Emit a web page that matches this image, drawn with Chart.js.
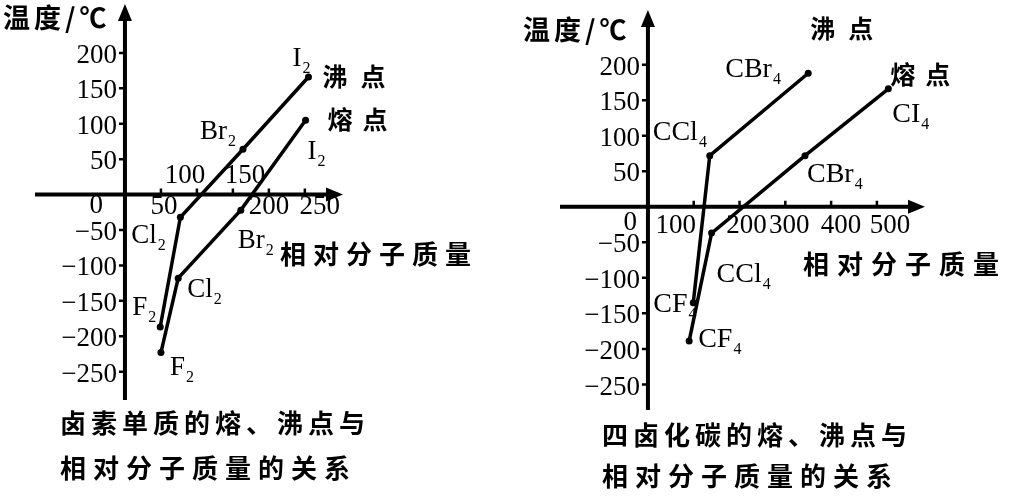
<!DOCTYPE html>
<html lang="zh">
<head>
<meta charset="utf-8">
<title>卤素单质与四卤化碳的熔、沸点</title>
<script src="https://cdn.jsdelivr.net/npm/chart.js@4.4.1/dist/chart.umd.min.js"></script>
<style>
body { margin: 0; background: #fff; }
#wrap { position: relative; width: 1009px; height: 499px; }
canvas { position: absolute; top: 0; }
#halogenChart { left: 0; }
#carbonChart { left: 500px; }
</style>
</head>
<body>
<div id="wrap">
<canvas id="halogenChart" width="500" height="499"></canvas>
<canvas id="carbonChart" width="509" height="499"></canvas>
</div>
<script>
// 卤素单质 (F2 Cl2 Br2 I2)
const halogenNames = ['F2', 'Cl2', 'Br2', 'I2']
const halogenBoilMass = [49, 77, 164, 255]
const halogenBoilPoint = [-187, -32, 64, 166]
const halogenMeltMass = [50, 74, 161, 251]
const halogenMeltPoint = [-223, -118, -22, 105]
const halogenXTicks = [50, 100, 150, 200, 250]

// 四卤化碳 (CI4 has no boiling point on the chart)
const carbonNames = ['CF4', 'CCl4', 'CBr4', 'CI4']
const carbonBoilMass = [99, 135, 350]
const carbonBoilPoint = [-135, 72, 188]
const carbonMeltMass = [90, 139, 343, 525]
const carbonMeltPoint = [-189, -37, 72, 166]
const carbonXTicks = [100, 200, 300, 400, 500]

const tempTicks = [-250, -200, -150, -100, -50, 50, 100, 150, 200]

const SERIF = '"Liberation Serif", "Times New Roman", serif'
const CJK = '"Noto Sans CJK SC", sans-serif'

function pts(xs, ys) {
  return xs.map((x, i) => ({ x: x, y: ys[i] }))
}

function minus(v) {
  return String(v).replace('-', '\u2212')
}

// chinese text, char by char with a gap
function drawCJK(ctx, text, x, y, size, gap) {
  ctx.font = 'bold ' + size + 'px ' + CJK
  ctx.textAlign = 'left'
  ctx.textBaseline = 'middle'
  for (const ch of text) {
    ctx.fillText(ch, x, y)
    x += ctx.measureText(ch).width + gap
  }
}

// F2 -> F with subscript 2
function drawFormula(ctx, name, x, y, size) {
  const m = name.match(/^(.*?)(\d+)$/)
  const base = m ? m[1] : name
  ctx.textAlign = 'left'
  ctx.textBaseline = 'alphabetic'
  ctx.font = size + 'px ' + SERIF
  ctx.fillText(base, x, y)
  if (m) {
    const w = ctx.measureText(base).width
    ctx.font = Math.round(size * 0.58) + 'px ' + SERIF
    ctx.fillText(m[2], x + w + 1, y + 7)
  }
}

function sketchPlugin(s) {
  return {
    id: 'sketch',
    afterDraw(chart) {
      const ctx = chart.ctx
      const a = chart.chartArea
      const xs = chart.scales.x, ys = chart.scales.y
      const ox = xs.getPixelForValue(0), oy = ys.getPixelForValue(0)
      ctx.save()
      ctx.fillStyle = '#000'
      ctx.strokeStyle = '#000'

      // axes through the origin
      ctx.lineWidth = 4
      ctx.beginPath()
      ctx.moveTo(a.left, oy); ctx.lineTo(a.right - 10, oy)
      ctx.moveTo(ox, a.bottom); ctx.lineTo(ox, a.top + 10)
      ctx.stroke()
      ctx.beginPath()
      ctx.moveTo(a.right, oy); ctx.lineTo(a.right - 17, oy - 7); ctx.lineTo(a.right - 17, oy + 7); ctx.closePath()
      ctx.moveTo(ox, a.top); ctx.lineTo(ox - 7, a.top + 17); ctx.lineTo(ox + 7, a.top + 17); ctx.closePath()
      ctx.fill()

      // tick marks
      ctx.lineWidth = 2.5
      ctx.beginPath()
      tempTicks.forEach(v => {
        const y = ys.getPixelForValue(v)
        ctx.moveTo(ox - 6, y); ctx.lineTo(ox, y)
      })
      s.xTicks.forEach(v => {
        const x = xs.getPixelForValue(v)
        ctx.moveTo(x, oy - 6); ctx.lineTo(x, oy)
      })
      ctx.stroke()

      // tick labels
      ctx.font = '27px ' + SERIF
      ctx.textAlign = 'right'
      ctx.textBaseline = 'middle'
      tempTicks.forEach(v => {
        ctx.fillText(minus(v), ox - 8, ys.getPixelForValue(v) + 3)
      })
      ctx.textBaseline = 'alphabetic'
      ctx.fillText('0', ox + s.zero[0], oy + s.zero[1])
      ctx.textAlign = 'center'
      s.xTicks.forEach((v, i) => {
        const n = s.xNudge[i]
        ctx.fillText(String(v), xs.getPixelForValue(v) + n[0], oy + n[1])
      })

      // point labels
      chart.data.datasets.forEach(ds => {
        ds.data.forEach((p, i) => {
          const off = ds.labelOffsets[i]
          drawFormula(ctx, ds.names[i], xs.getPixelForValue(p.x) + off[0], ys.getPixelForValue(p.y) + off[1], s.formulaSize)
        })
        const last = ds.data[ds.data.length - 1]
        drawCJK(ctx, ds.label, xs.getPixelForValue(last.x) + ds.nameOffset[0], ys.getPixelForValue(last.y) + ds.nameOffset[1], 25, ds.nameGap)
      })

      // titles and caption
      drawCJK(ctx, '温度/℃', s.yTitle[0], s.yTitle[1], 27, 4)
      drawCJK(ctx, '相对分子质量', s.xTitle[0], s.xTitle[1], 26, s.xTitle[2])
      drawCJK(ctx, s.caption[0], s.capPos[0], s.capPos[1], 26, 5)
      drawCJK(ctx, s.caption[1], s.capPos[0], s.capPos[2], 26, 7)
      ctx.restore()
    }
  }
}

function lineSet(label, xs, ys, names, labelOffsets, nameOffset, nameGap) {
  return {
    label: label,
    data: pts(xs, ys),
    names: names,
    labelOffsets: labelOffsets,
    nameOffset: nameOffset,
    nameGap: nameGap,
    showLine: true,
    borderColor: '#000',
    borderWidth: 3.5,
    pointRadius: 3.5,
    pointBackgroundColor: '#000',
    pointBorderWidth: 0,
    clip: false
  }
}

function makeChart(id, datasets, s) {
  return new Chart(document.getElementById(id), {
    type: 'scatter',
    data: { datasets: datasets },
    options: {
      responsive: false,
      animation: false,
      layout: { padding: s.padding },
      plugins: { legend: { display: false }, tooltip: { enabled: false } },
      scales: {
        x: { type: 'linear', display: false, min: s.xRange[0], max: s.xRange[1] },
        y: { type: 'linear', display: false, min: s.yRange[0], max: s.yRange[1] }
      }
    },
    plugins: [sketchPlugin(s)]
  })
}

makeChart('halogenChart', [
  lineSet('沸点', halogenBoilMass, halogenBoilPoint, halogenNames,
    [[-28, -12], [-49, 26], [-43, -10], [-16, -11]], [14, 0], 13),
  lineSet('熔点', halogenMeltMass, halogenMeltPoint, halogenNames,
    [[9, 22], [9, 19], [-3, 38], [2, 39]], [22, -1], 10)
], {
  padding: { left: 35, right: 157, top: 3, bottom: 99 },
  xRange: [-125, 303],
  yRange: [-290, 269],
  xTicks: halogenXTicks,
  xNudge: [[3, 19], [-12, -12], [12, -12], [0, 19], [15, 19]],
  zero: [-22, 18],
  formulaSize: 27,
  yTitle: [3, 18],
  xTitle: [280, 254, 7],
  caption: ['卤素单质的熔、沸点与', '相对分子质量的关系'],
  capPos: [60, 423, 468]
})

makeChart('carbonChart', [
  lineSet('沸点', carbonBoilMass, carbonBoilPoint, carbonNames.slice(0, 3),
    [[-40, 9], [-57, -16], [-83, 4]], [2, -45], 13),
  lineSet('熔点', carbonMeltMass, carbonMeltPoint, carbonNames,
    [[9, 6], [5, 49], [2, 26], [4, 33]], [2, -14], 10)
], {
  padding: { left: 60, right: 84, top: 10, bottom: 89 },
  xRange: [-192, 605],
  yRange: [-286, 277],
  xTicks: carbonXTicks,
  xNudge: [[-18, 26], [7, 26], [4, 26], [10, 26], [13, 26]],
  zero: [-11, 23],
  formulaSize: 28,
  yTitle: [23, 30],
  xTitle: [303, 264, 8],
  caption: ['四卤化碳的熔、沸点与', '相对分子质量的关系'],
  capPos: [102, 435, 476]
})
</script>
</body>
</html>
